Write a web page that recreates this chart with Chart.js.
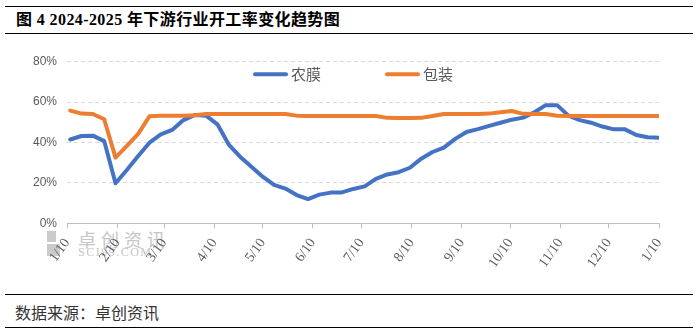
<!DOCTYPE html>
<html>
<head>
<meta charset="utf-8">
<script src="https://cdn.jsdelivr.net/npm/chart.js@4.4.1/dist/chart.umd.min.js"></script>
<style>
    html, body { margin: 0; padding: 0; background: #fff; }
    #wrap { position: relative; width: 698px; height: 332px; overflow: hidden; }
    #chart { position: absolute; left: 0; top: 0; z-index: 2; }
    .rule { position: absolute; left: 5px; width: 688px; height: 1px; background: #000; }
    #title {
        position: absolute; left: 16px; top: 11px; white-space: nowrap;
        font: bold 16px "Liberation Serif", "Noto Sans CJK SC"; line-height: 18px; color: #000;
        letter-spacing: 0.4px;
    }
    #source {
        position: absolute; left: 15px; top: 302px; white-space: nowrap;
        font: 16px "Noto Sans CJK SC"; line-height: 20px; color: #333;
    }
    /* faint logo + site name behind the axis labels */
    .wm { position: absolute; z-index: 1; color: #c6c6c6; white-space: nowrap; }
    .wm-box { position: absolute; z-index: 1; background: #cbcbcb; }
</style>
</head>
<body>
<div id="wrap">
    <div class="rule" style="top:6px"></div>
    <div id="title">图 4 2024-2025 年下游行业开工率变化趋势图</div>
    <div class="rule" style="top:33px"></div>

    <div class="wm-box" style="left:47px; top:231px; width:9px; height:11px"></div>
    <div class="wm-box" style="left:47px; top:244px; width:13px; height:12px"></div>
    <div class="wm" style="left:78px; top:229px; font: 18px 'Noto Sans CJK SC'; line-height:20px; letter-spacing:5px">卓创资讯</div>
    <div class="wm" style="left:78px; top:246px; font: 12px 'Liberation Serif'; line-height:12px; letter-spacing:1.5px">SCI99.COM</div>

    <canvas id="chart" width="698" height="332"></canvas>

    <div class="rule" style="top:294px"></div>
    <div id="source">数据来源：卓创资讯</div>
    <div class="rule" style="top:327px"></div>
</div>

<script>
// weekly readings, Jan 12 2024 - Jan 10 2025
const weekDates = [
    '2024-01-12', '2024-01-19', '2024-01-26', '2024-02-02', '2024-02-09', '2024-02-16', '2024-02-23',
    '2024-03-01', '2024-03-08', '2024-03-15', '2024-03-22', '2024-03-29', '2024-04-05', '2024-04-12',
    '2024-04-19', '2024-04-26', '2024-05-03', '2024-05-10', '2024-05-17', '2024-05-24', '2024-05-31',
    '2024-06-07', '2024-06-14', '2024-06-21', '2024-06-28', '2024-07-05', '2024-07-12', '2024-07-19',
    '2024-07-26', '2024-08-02', '2024-08-09', '2024-08-16', '2024-08-23', '2024-08-30', '2024-09-06',
    '2024-09-13', '2024-09-20', '2024-09-27', '2024-10-04', '2024-10-11', '2024-10-18', '2024-10-25',
    '2024-11-01', '2024-11-08', '2024-11-15', '2024-11-22', '2024-11-29', '2024-12-06', '2024-12-13',
    '2024-12-20', '2024-12-27', '2025-01-03', '2025-01-10'
];

// 农膜 operating rate, %
const filmRates = [
    41.5, 43.2, 43.4, 40.7, 19.8, 26.4, 33.3, 39.9, 44.0, 46.2, 51.1, 53.6, 53.3, 49.0,
    39.0, 33.0, 28.0, 23.1, 19.0, 17.2, 14.0, 12.0, 14.2, 15.2, 15.3, 17.0, 18.3, 22.0,
    24.2, 25.3, 27.5, 32.0, 35.3, 37.5, 41.8, 45.2, 46.6, 48.2, 49.8, 51.3, 52.3, 55.0,
    58.5, 58.5, 53.3, 51.1, 49.8, 47.9, 46.5, 46.5, 43.7, 42.6, 42.4
];

// 包装 operating rate, %
const packRates = [
    55.8, 54.3, 54.1, 51.5, 32.5, 38.3, 44.3, 53.0, 53.3, 53.3, 53.3, 53.5, 54.1, 54.1,
    54.1, 54.1, 54.1, 54.1, 54.1, 54.1, 53.3, 53.1, 53.1, 53.1, 53.1, 53.1, 53.1, 53.1,
    52.2, 52.1, 52.1, 52.2, 53.1, 54.1, 54.1, 54.1, 54.1, 54.3, 55.0, 55.6, 54.2, 54.1,
    54.1, 53.2, 53.1, 53.1, 53.1, 53.1, 53.1, 53.1, 53.1, 53.1, 53.1
];

const tickDates = [
    '2024-01-10', '2024-02-10', '2024-03-10', '2024-04-10', '2024-05-10', '2024-06-10', '2024-07-10',
    '2024-08-10', '2024-09-10', '2024-10-10', '2024-11-10', '2024-12-10', '2025-01-10'
];
const tickLabels = ['1/10', '2/10', '3/10', '4/10', '5/10', '6/10', '7/10', '8/10', '9/10', '10/10', '11/10', '12/10', '1/10'];

const seriesNames = ['农膜', '包装'];
const seriesColors = ['#4472C4', '#ED7D31'];

// days since the first axis date
const dayZero = Date.parse(tickDates[0]);
function dayOf(s) {
    return Math.round((Date.parse(s) - dayZero) / 86400000);
}

function toPoints(values) {
    return weekDates.map((d, i) => ({ x: dayOf(d), y: values[i] }));
}

// legend sits inside the plot, just under the top gridline
const inPlotLegend = {
    id: 'inPlotLegend',
    afterDatasetsDraw(chart) {
        const { ctx, chartArea } = chart;
        let x = chartArea.left + 186;
        const y = chartArea.top + 12.5;
        ctx.save();
        ctx.font = '15px "Noto Sans CJK SC"';
        ctx.textBaseline = 'middle';
        chart.data.datasets.forEach(ds => {
            ctx.strokeStyle = ds.borderColor;
            ctx.lineWidth = 4;
            ctx.lineCap = 'round';
            ctx.beginPath();
            ctx.moveTo(x + 2, y);
            ctx.lineTo(x + 33, y);
            ctx.stroke();
            ctx.fillStyle = '#595959';
            ctx.fillText(ds.label, x + 38, y);
            x += 132;
        });
        ctx.restore();
    }
};

const ctx = document.getElementById('chart').getContext('2d');
new Chart(ctx, {
    type: 'line',
    data: {
        datasets: [{
            label: seriesNames[0],
            data: toPoints(filmRates),
            borderColor: seriesColors[0],
            borderWidth: 4,
            order: 1
        }, {
            label: seriesNames[1],
            data: toPoints(packRates),
            borderColor: seriesColors[1],
            borderWidth: 4,
            order: 0
        }]
    },
    options: {
        responsive: false,
        animation: false,
        events: [],
        elements: {
            point: { radius: 0 },
            line: { tension: 0, borderJoinStyle: 'round', borderCapStyle: 'round', fill: false }
        },
        layout: { padding: { top: 61.7, right: 39, bottom: 48.7, left: 0 } },
        plugins: { legend: { display: false }, tooltip: { enabled: false } },
        scales: {
            x: {
                type: 'linear',
                min: 0,
                max: dayOf(tickDates[tickDates.length - 1]),
                afterBuildTicks(scale) {
                    scale.ticks = tickDates.map(d => ({ value: dayOf(d) }));
                },
                afterFit(scale) { scale.height = 60; },
                ticks: {
                    autoSkip: false,
                    minRotation: 55,
                    maxRotation: 55,
                    padding: 7,
                    color: '#595959',
                    font: { family: '"Liberation Serif"', size: 14 },
                    callback: (v, i) => tickLabels[i]
                },
                grid: { drawOnChartArea: false, drawTicks: true, tickLength: 5, color: '#bfbfbf' },
                border: { display: true, color: '#bfbfbf', width: 1 }
            },
            y: {
                min: 0,
                max: 80,
                afterFit(scale) { scale.width = 67; },
                ticks: {
                    stepSize: 20,
                    padding: 10,
                    color: '#595959',
                    font: { family: '"Liberation Sans"', size: 12 },
                    callback: v => v + '%'
                },
                grid: {
                    drawTicks: false,
                    color: c => c.tick.value === 0 ? 'rgba(0,0,0,0)' : '#d9d9d9'
                },
                border: { display: false, dash: [4, 3] }
            }
        }
    },
    plugins: [inPlotLegend]
});
</script>
</body>
</html>
